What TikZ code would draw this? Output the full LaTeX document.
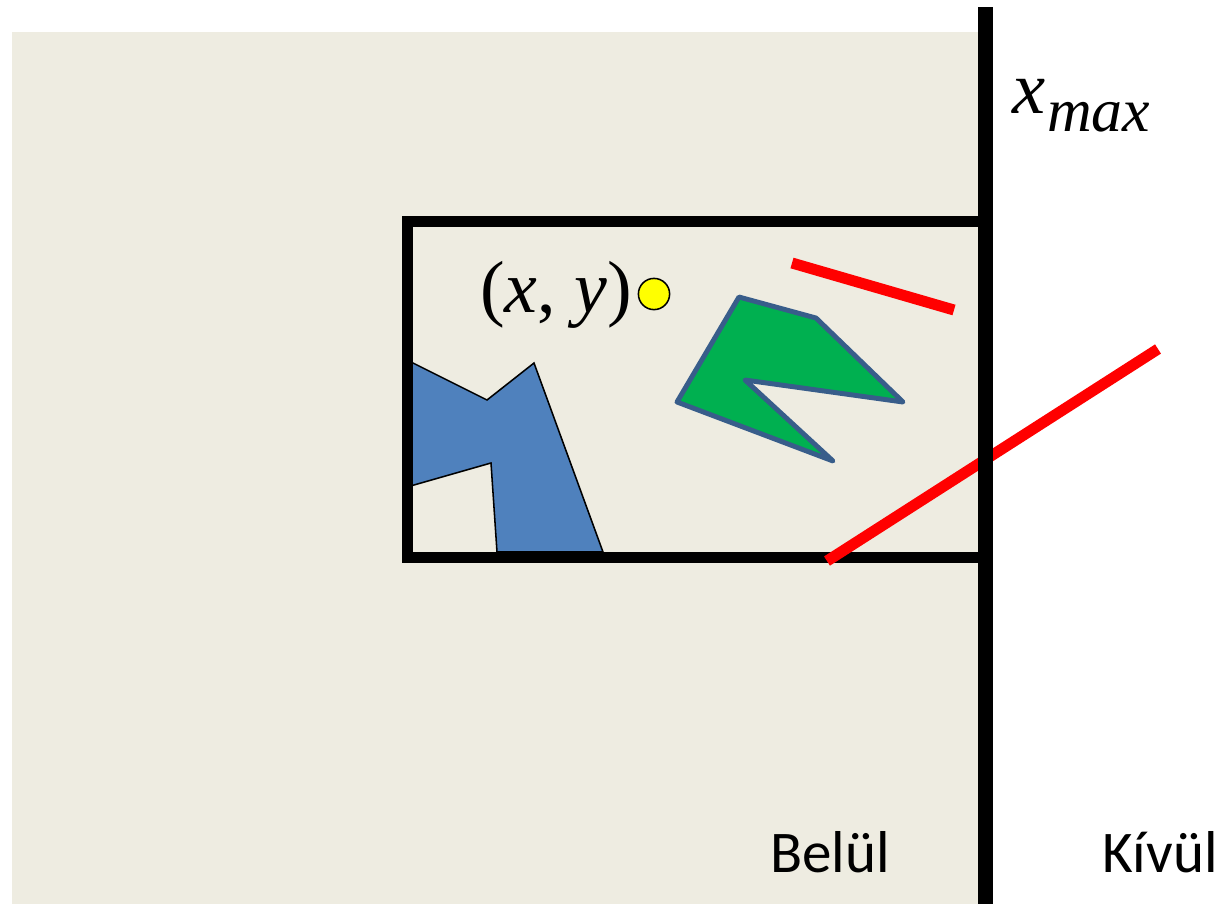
\documentclass[tikz,border=0pt]{standalone}
\usepackage{fontspec}
\setmainfont{Liberation Serif}
\newfontfamily\calibri{Carlito}
\definecolor{bgbeige}{RGB}{238,236,225}
\definecolor{polyblue}{RGB}{79,129,189}
\definecolor{polygreen}{RGB}{0,176,80}
\definecolor{edgeblue}{RGB}{56,93,138}
\definecolor{segred}{RGB}{255,0,0}
\definecolor{ptyellow}{RGB}{255,255,0}
\tikzset{
  frame/.style={line width=8.5pt, line join=miter, black},
  border/.style={line width=10.7pt, black},
  redseg/.style={line width=7.8pt, segred},
  bluepoly/.style={fill=polyblue, draw=black, line width=1.1pt, line join=miter},
  greenpoly/.style={fill=polygreen, draw=edgeblue, line width=3.5pt, line join=round},
  lbl/.style={inner sep=0pt, outer sep=0pt}
}
\begin{document}
\begin{tikzpicture}[x=0.025cm, y=-0.025cm]
\useasboundingbox (0,0) rectangle (1230,904);
\fill[white] (0,0) rectangle (1230,904);
% inside region
\fill[bgbeige] (12,32) rectangle (985,904);
% blue polygon
\draw[bluepoly] (407,360) -- (487,400) -- (534,363) -- (603,552) -- (497,552) -- (491,463) -- (407,487);
% clipping window
\draw[frame] (985,221.5) -- (407.5,221.5) -- (407.5,557.5) -- (985,557.5);
% green polygon
\draw[greenpoly] (739,297) -- (816,318) -- (903,402) -- (745,380) -- (833,461) -- (677,402) -- cycle;
% red segments
\draw[redseg] (792,263) -- (954,310);
\draw[redseg] (1158,349) -- (827,561);
% boundary x_max
\draw[border] (985.5,7) -- (985.5,904);
% point
\node[circle, draw=black, line width=1.1pt, fill=ptyellow, inner sep=0pt, minimum size=0.78cm] (pt) at (654,294) {};
\node[lbl, anchor=base west] (xy) at (480,312) {\fontsize{52.5}{58}\selectfont (\textit{x}, \textit{y})};
\node[lbl, anchor=base west] (xm) at (1012,113) {\fontsize{53}{60}\selectfont\textit{x}};
\node[lbl, anchor=base west] (mx) at (1047,131) {\fontsize{44}{52}\selectfont\textit{max}};
\node[lbl, anchor=base] (in) at (830,872) {\calibri\fontsize{42}{50}\selectfont Belül};
\node[lbl, anchor=base] (out) at (1160,872) {\calibri\fontsize{42}{50}\selectfont Kívül};
\end{tikzpicture}
\end{document}
